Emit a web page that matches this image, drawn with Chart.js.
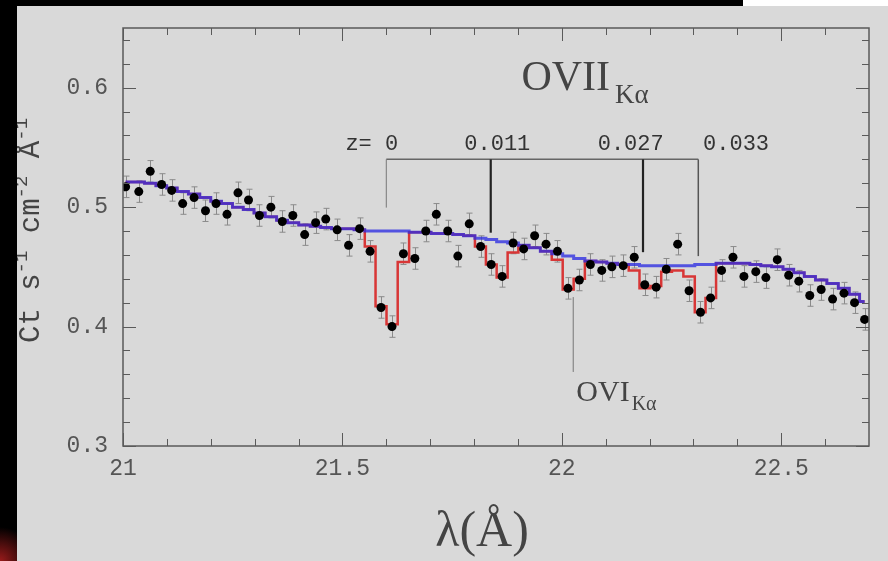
<!DOCTYPE html>
<html>
<head>
<meta charset="utf-8">
<script src="https://cdn.jsdelivr.net/npm/chart.js@4.4.0/dist/chart.umd.min.js"></script>
<style>
  html, body { margin: 0; padding: 0; width: 888px; height: 561px; overflow: hidden; background: #000; position: relative; }
  #corner { position: absolute; left: 743px; top: 0; width: 145px; height: 6px; background: #fff; }
  #glow { position: absolute; left: 0; top: 470px; width: 17px; height: 91px;
          background: radial-gradient(circle at 0 100%, rgba(170, 30, 30, 0.9), rgba(0, 0, 0, 0) 34px); }
  #wrap { position: absolute; left: 17px; top: 6px; width: 871px; height: 555px; background: #d9d9d9; }
</style>
</head>
<body>
<div id="corner"></div>
<div id="glow"></div>
<div id="wrap"><canvas id="spec" width="871" height="555"></canvas></div>
<script>
// wavelength bins (Å) and count rates
const lambda = [21.006, 21.036, 21.062, 21.088, 21.111, 21.136, 21.162, 21.188, 21.212, 21.237,
  21.262, 21.286, 21.311, 21.337, 21.363, 21.387, 21.414, 21.439, 21.462, 21.488,
  21.514, 21.539, 21.563, 21.588, 21.613, 21.639, 21.665, 21.690, 21.714, 21.740,
  21.763, 21.789, 21.815, 21.839, 21.864, 21.889, 21.913, 21.938, 21.964, 21.990,
  22.014, 22.040, 22.065, 22.091, 22.114, 22.140, 22.165, 22.189, 22.215, 22.238,
  22.264, 22.290, 22.316, 22.339, 22.364, 22.390, 22.415, 22.442, 22.465, 22.491,
  22.517, 22.540, 22.565, 22.591, 22.617, 22.643, 22.667, 22.690];
const counts = [0.517, 0.513, 0.530, 0.519, 0.514, 0.503, 0.508, 0.497, 0.503, 0.494,
  0.512, 0.506, 0.493, 0.500, 0.488, 0.493, 0.477, 0.487, 0.490, 0.481,
  0.468, 0.482, 0.463, 0.416, 0.400, 0.461, 0.457, 0.480, 0.494, 0.480,
  0.459, 0.486, 0.467, 0.452, 0.442, 0.470, 0.465, 0.476, 0.469, 0.463,
  0.432, 0.439, 0.452, 0.447, 0.450, 0.451, 0.458, 0.435, 0.433, 0.448,
  0.469, 0.430, 0.412, 0.424, 0.447, 0.458, 0.442, 0.446, 0.441, 0.456,
  0.443, 0.438, 0.426, 0.431, 0.423, 0.428, 0.420, 0.406];
const ERR = 0.009;
// continuum model (blue)
const continuum = [0.521, 0.521, 0.520, 0.518, 0.516, 0.513, 0.511, 0.508, 0.505, 0.503,
  0.500, 0.498, 0.495, 0.492, 0.489, 0.487, 0.485, 0.484, 0.483, 0.482,
  0.482, 0.481, 0.480, 0.480, 0.480, 0.480, 0.479, 0.479, 0.478, 0.478,
  0.477, 0.476, 0.474, 0.473, 0.471, 0.470, 0.468, 0.466, 0.463, 0.461,
  0.459, 0.457, 0.455, 0.454, 0.453, 0.452, 0.452, 0.451, 0.451, 0.451,
  0.451, 0.451, 0.452, 0.452, 0.453, 0.453, 0.453, 0.452, 0.451, 0.450,
  0.448, 0.445, 0.442, 0.439, 0.436, 0.432, 0.427, 0.421];
// model with absorption lines (red)
const absModel = [0.521, 0.521, 0.520, 0.518, 0.516, 0.513, 0.511, 0.508, 0.505, 0.503,
  0.500, 0.498, 0.495, 0.492, 0.489, 0.487, 0.485, 0.484, 0.483, 0.482,
  0.482, 0.481, 0.467, 0.417, 0.402, 0.454, 0.479, 0.479, 0.478, 0.478,
  0.477, 0.476, 0.467, 0.452, 0.441, 0.462, 0.468, 0.466, 0.463, 0.456,
  0.431, 0.440, 0.455, 0.454, 0.453, 0.452, 0.447, 0.432, 0.434, 0.446,
  0.447, 0.442, 0.412, 0.424, 0.453, 0.453, 0.453, 0.452, 0.451, 0.450,
  0.448, 0.445, 0.442, 0.439, 0.436, 0.432, 0.427, 0.421];

const xTickLabels = [21, 21.5, 22, 22.5];
const yTickLabels = [0.3, 0.4, 0.5, 0.6];
const xMinorTicks = [21.1, 21.2, 21.3, 21.4, 21.6, 21.7, 21.8, 21.9, 22.1, 22.2, 22.3, 22.4, 22.6];
const yMinorTicks = [0.32, 0.34, 0.36, 0.38, 0.42, 0.44, 0.46, 0.48, 0.52, 0.54, 0.56, 0.58, 0.62, 0.64];

// redshift markers
const zLabels = ['z= 0', '0.011', '0.027', '0.033'];
const zLabelLambda = [21.567, 21.853, 22.157, 22.397];
const zLineLambda = [21.600, 21.838, 22.185, 22.311];
const zLineBottom = [0.4996, 0.4786, 0.4623, 0.459];
const Z_BAR = 0.540;
const Z_LABEL_Y = 0.5477;
const OVI_LAMBDA = 22.026;

const MONO = '"Liberation Mono", "DejaVu Sans Mono", monospace';
const SERIF = '"Liberation Serif", "DejaVu Serif", serif';

const errorBars = {
  id: 'errorBars',
  beforeDatasetsDraw(chart) {
    const { ctx, scales: { x, y } } = chart;
    ctx.save();
    ctx.strokeStyle = '#8a8a8a';
    ctx.lineWidth = 1;
    lambda.forEach((l, i) => {
      const px = Math.round(x.getPixelForValue(l)) + 0.5;
      const y1 = y.getPixelForValue(counts[i] + ERR);
      const y2 = y.getPixelForValue(counts[i] - ERR);
      ctx.beginPath();
      ctx.moveTo(px, y1); ctx.lineTo(px, y2);
      ctx.moveTo(px - 3, y1); ctx.lineTo(px + 3, y1);
      ctx.moveTo(px - 3, y2); ctx.lineTo(px + 3, y2);
      ctx.stroke();
    });
    ctx.restore();
  }
};

const frame = {
  id: 'frame',
  afterDraw(chart) {
    const { ctx, chartArea: a, scales: { x, y } } = chart;
    ctx.save();
    ctx.strokeStyle = '#5a5a5a';
    ctx.lineWidth = 1.5;
    ctx.strokeRect(a.left, a.top, a.right - a.left, a.bottom - a.top);
    ctx.lineWidth = 1;
    const xt = (v, len) => {
      const px = Math.round(x.getPixelForValue(v)) + 0.5;
      ctx.beginPath();
      ctx.moveTo(px, a.bottom); ctx.lineTo(px, a.bottom - len);
      ctx.moveTo(px, a.top); ctx.lineTo(px, a.top + len);
      ctx.stroke();
    };
    const yt = (v, len) => {
      const py = Math.round(y.getPixelForValue(v)) + 0.5;
      ctx.beginPath();
      ctx.moveTo(a.left, py); ctx.lineTo(a.left + len, py);
      ctx.moveTo(a.right, py); ctx.lineTo(a.right - len, py);
      ctx.stroke();
    };
    xTickLabels.forEach(v => xt(v, 13));
    xMinorTicks.forEach(v => xt(v, 7));
    yTickLabels.forEach(v => yt(v, 13));
    yMinorTicks.forEach(v => yt(v, 7));

    // redshift marker tree
    const barY = y.getPixelForValue(Z_BAR);
    ctx.strokeStyle = '#666';
    ctx.lineWidth = 1.5;
    ctx.beginPath();
    ctx.moveTo(x.getPixelForValue(zLineLambda[0]), barY);
    ctx.lineTo(x.getPixelForValue(zLineLambda[3]), barY);
    ctx.stroke();
    const zWidths = [1, 2.2, 2.2, 1.5];
    const zColors = ['#777', '#222', '#222', '#555'];
    zLineLambda.forEach((l, i) => {
      const px = x.getPixelForValue(l);
      ctx.strokeStyle = zColors[i];
      ctx.lineWidth = zWidths[i];
      ctx.beginPath();
      ctx.moveTo(px, barY);
      ctx.lineTo(px, y.getPixelForValue(zLineBottom[i]));
      ctx.stroke();
    });
    ctx.fillStyle = '#333';
    ctx.font = '22px ' + MONO;
    ctx.textAlign = 'center';
    ctx.textBaseline = 'alphabetic';
    zLabels.forEach((t, i) => ctx.fillText(t, x.getPixelForValue(zLabelLambda[i]), y.getPixelForValue(Z_LABEL_Y)));

    // OVI marker
    const ox = x.getPixelForValue(OVI_LAMBDA);
    ctx.strokeStyle = '#777';
    ctx.lineWidth = 1;
    ctx.beginPath();
    ctx.moveTo(ox, y.getPixelForValue(0.4247));
    ctx.lineTo(ox, y.getPixelForValue(0.362));
    ctx.stroke();

    ctx.textAlign = 'left';
    ctx.fillStyle = '#444';
    ctx.font = '30px ' + SERIF;
    const oviX = x.getPixelForValue(22.033), oviY = y.getPixelForValue(0.3377);
    ctx.fillText('OVI', oviX, oviY);
    const w1 = ctx.measureText('OVI').width;
    ctx.font = '20px ' + SERIF;
    ctx.fillText('Kα', oviX + w1 + 2, oviY + 9);

    ctx.font = '42px ' + SERIF;
    const ttlX = x.getPixelForValue(21.908), ttlY = y.getPixelForValue(0.5983);
    ctx.fillText('OVII', ttlX, ttlY);
    const w2 = ctx.measureText('OVII').width;
    ctx.font = '27px ' + SERIF;
    ctx.fillText('Kα', ttlX + w2 + 5, ttlY + 13);

    // x axis title
    ctx.font = '50px ' + SERIF;
    ctx.textAlign = 'center';
    ctx.fillText('λ(Å)', 465, 540);

    // y axis title with superscripts
    ctx.translate(22, 337);
    ctx.rotate(-Math.PI / 2);
    ctx.textAlign = 'left';
    const parts = [['Ct s', false], ['-1', true], [' cm', false], ['-2', true], [' Å', false], ['-1', true]];
    let cx = 0;
    parts.forEach(([t, sup]) => {
      ctx.font = (sup ? '19px ' : '29px ') + MONO;
      ctx.fillText(t, cx, sup ? -12 : 0);
      cx += ctx.measureText(t).width;
    });
    ctx.restore();
  }
};

const toPts = vals => lambda.map((l, i) => ({ x: l, y: vals[i] }));

new Chart(document.getElementById('spec'), {
  type: 'line',
  data: {
    datasets: [
      {
        label: 'data',
        data: toPts(counts),
        showLine: false,
        pointRadius: 4.5,
        pointBackgroundColor: '#000',
        pointBorderColor: '#000',
        pointBorderWidth: 0,
        order: 0
      },
      {
        label: 'continuum',
        data: toPts(continuum),
        borderColor: 'rgba(45, 45, 225, 0.78)',
        borderWidth: 3,
        pointRadius: 0,
        stepped: 'middle',
        order: 1
      },
      {
        label: 'absorption model',
        data: toPts(absModel),
        borderColor: '#d83636',
        borderWidth: 2.5,
        pointRadius: 0,
        stepped: 'middle',
        order: 2
      }
    ]
  },
  options: {
    responsive: false,
    animation: false,
    events: [],
    layout: { padding: { left: 0, top: 22, right: 19, bottom: 0 } },
    plugins: { legend: { display: false }, tooltip: { enabled: false } },
    scales: {
      x: {
        type: 'linear',
        min: 21,
        max: 22.7,
        grid: { display: false, drawTicks: false },
        border: { display: false },
        afterBuildTicks: s => { s.ticks = xTickLabels.map(v => ({ value: v })); },
        afterFit: s => { s.height = 115; s.paddingLeft = 0; s.paddingRight = 0; },
        ticks: { autoSkip: false, maxRotation: 0, padding: 9, color: '#555', font: { family: MONO, size: 23 }, callback: v => String(v) }
      },
      y: {
        min: 0.3,
        max: 0.65,
        grid: { display: false, drawTicks: false },
        border: { display: false },
        afterBuildTicks: s => { s.ticks = yTickLabels.map(v => ({ value: v })); },
        afterFit: s => { s.width = 106; s.paddingTop = 0; s.paddingBottom = 0; },
        ticks: { padding: 15, color: '#555', font: { family: MONO, size: 23 }, callback: v => String(v) }
      }
    }
  },
  plugins: [errorBars, frame]
});
</script>
</body>
</html>
